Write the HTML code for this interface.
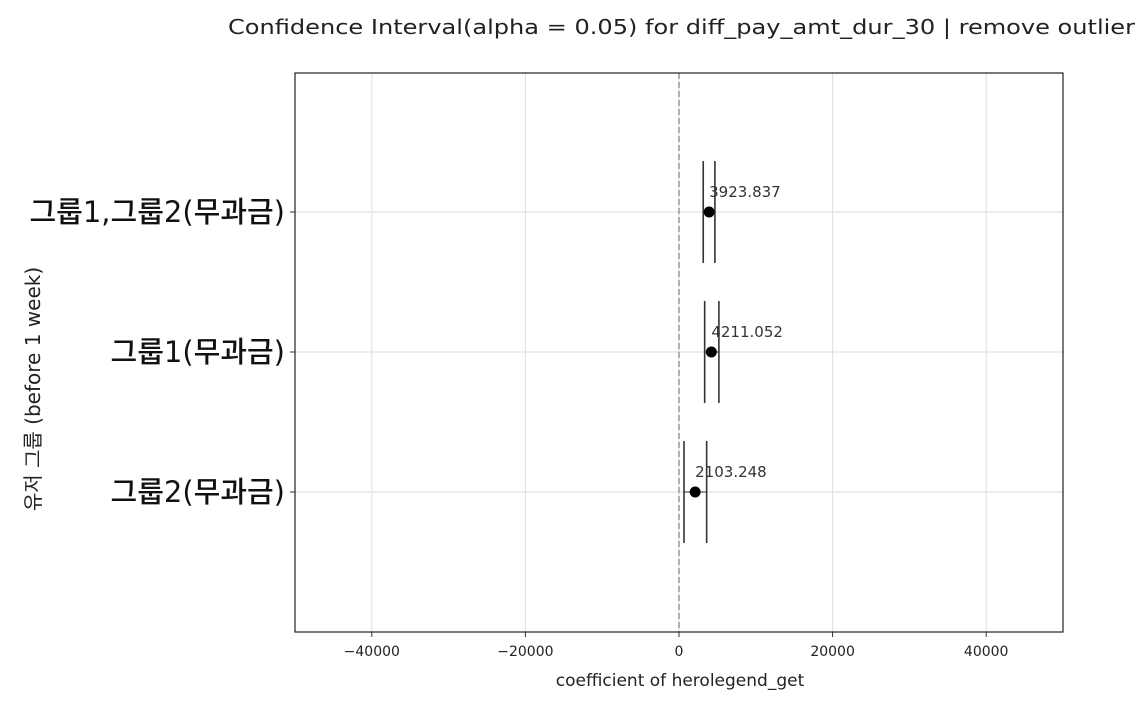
<!DOCTYPE html>
<html><head><meta charset="utf-8"><style>
body{margin:0;background:#fff;width:1142px;height:700px;overflow:hidden}
svg text{font-family:"DejaVu Sans","Liberation Sans","Noto Sans CJK KR",sans-serif}
</style></head><body>
<svg id="c" width="1142" height="700"></svg>
<script>
const categories=["그룹1,그룹2(무과금)","그룹1(무과금)","그룹2(무과금)"];
const estimates=[3923.837,4211.052,2103.248];
const lowers=[3156,3340,650];
const uppers=[4675,5195,3600];
const xTicks=[-40000,-20000,0,20000,40000];
const xTickLabels=["−40000","−20000","0","20000","40000"];
const L=295,R=1063,T=73,B=632,xmin=-50000,xmax=50000;
const X=v=>L+(v-xmin)/(xmax-xmin)*(R-L);
const Y=i=>212+i*140;
const s=document.getElementById('c');const NS='http://www.w3.org/2000/svg';
function mk(t,a,txt){const e=document.createElementNS(NS,t);for(const k in a)e.setAttribute(k,a[k]);if(txt!=null)e.textContent=txt;s.appendChild(e);return e;}
let e;
e=mk('text',{x:228,y:34,'font-size':20,textLength:907,lengthAdjust:'spacingAndGlyphs',fill:'#222'},'Confidence Interval(alpha = 0.05) for diff_pay_amt_dur_30 | remove outlier');

xTicks.forEach((v,i)=>{
 e=mk('line',{x1:X(v),x2:X(v),y1:T,y2:B,stroke:'#e2e2e2','stroke-width':1.2});
 
 e=mk('line',{x1:X(v),x2:X(v),y1:B,y2:B+5,stroke:'#333'});
 
 e=mk('text',{x:X(v),y:B+24,'font-size':14,'text-anchor':'middle',fill:'#222'},xTickLabels[i]);
 
});
categories.forEach((c,i)=>{
 e=mk('line',{x1:L,x2:R,y1:Y(i),y2:Y(i),stroke:'#e2e2e2','stroke-width':1.2});
 
 e=mk('line',{x1:L-5,x2:L,y1:Y(i),y2:Y(i),stroke:'#333'});
 
 e=mk('text',{x:L-10,y:Y(i)+10,'font-size':29,'font-weight':500,'text-anchor':'end',fill:'#111'},c);
 
});
e=mk('line',{x1:X(0),x2:X(0),y1:T,y2:B,stroke:'#999','stroke-width':1.5,'stroke-dasharray':'6,3'});

categories.forEach((c,i)=>{
 [lowers[i],uppers[i]].forEach(v=>{
  e=mk('line',{x1:X(v),x2:X(v),y1:Y(i)-51,y2:Y(i)+51,stroke:'#333','stroke-width':1.6});
  
 });
 e=mk('line',{x1:X(lowers[i]),x2:X(uppers[i]),y1:Y(i),y2:Y(i),stroke:'#333','stroke-width':1});
 
 e=mk('circle',{cx:X(estimates[i]),cy:Y(i),r:5.5,fill:'#000'});
 
 e=mk('text',{x:X(estimates[i]),y:Y(i)-15,'font-size':15,fill:'#333'},estimates[i].toFixed(3));
 
});
e=mk('rect',{x:L,y:T,width:R-L,height:B-T,fill:'none',stroke:'#222','stroke-width':1.2});

e=mk('text',{x:680,y:686,'font-size':17,'text-anchor':'middle',fill:'#222'},'coefficient of herolegend_get');

e=mk('text',{x:0,y:0,'font-size':20,'text-anchor':'middle',fill:'#222',transform:'translate(40,389) rotate(-90)'},'유저 그룹 (before 1 week)');

</script>
</body></html>
